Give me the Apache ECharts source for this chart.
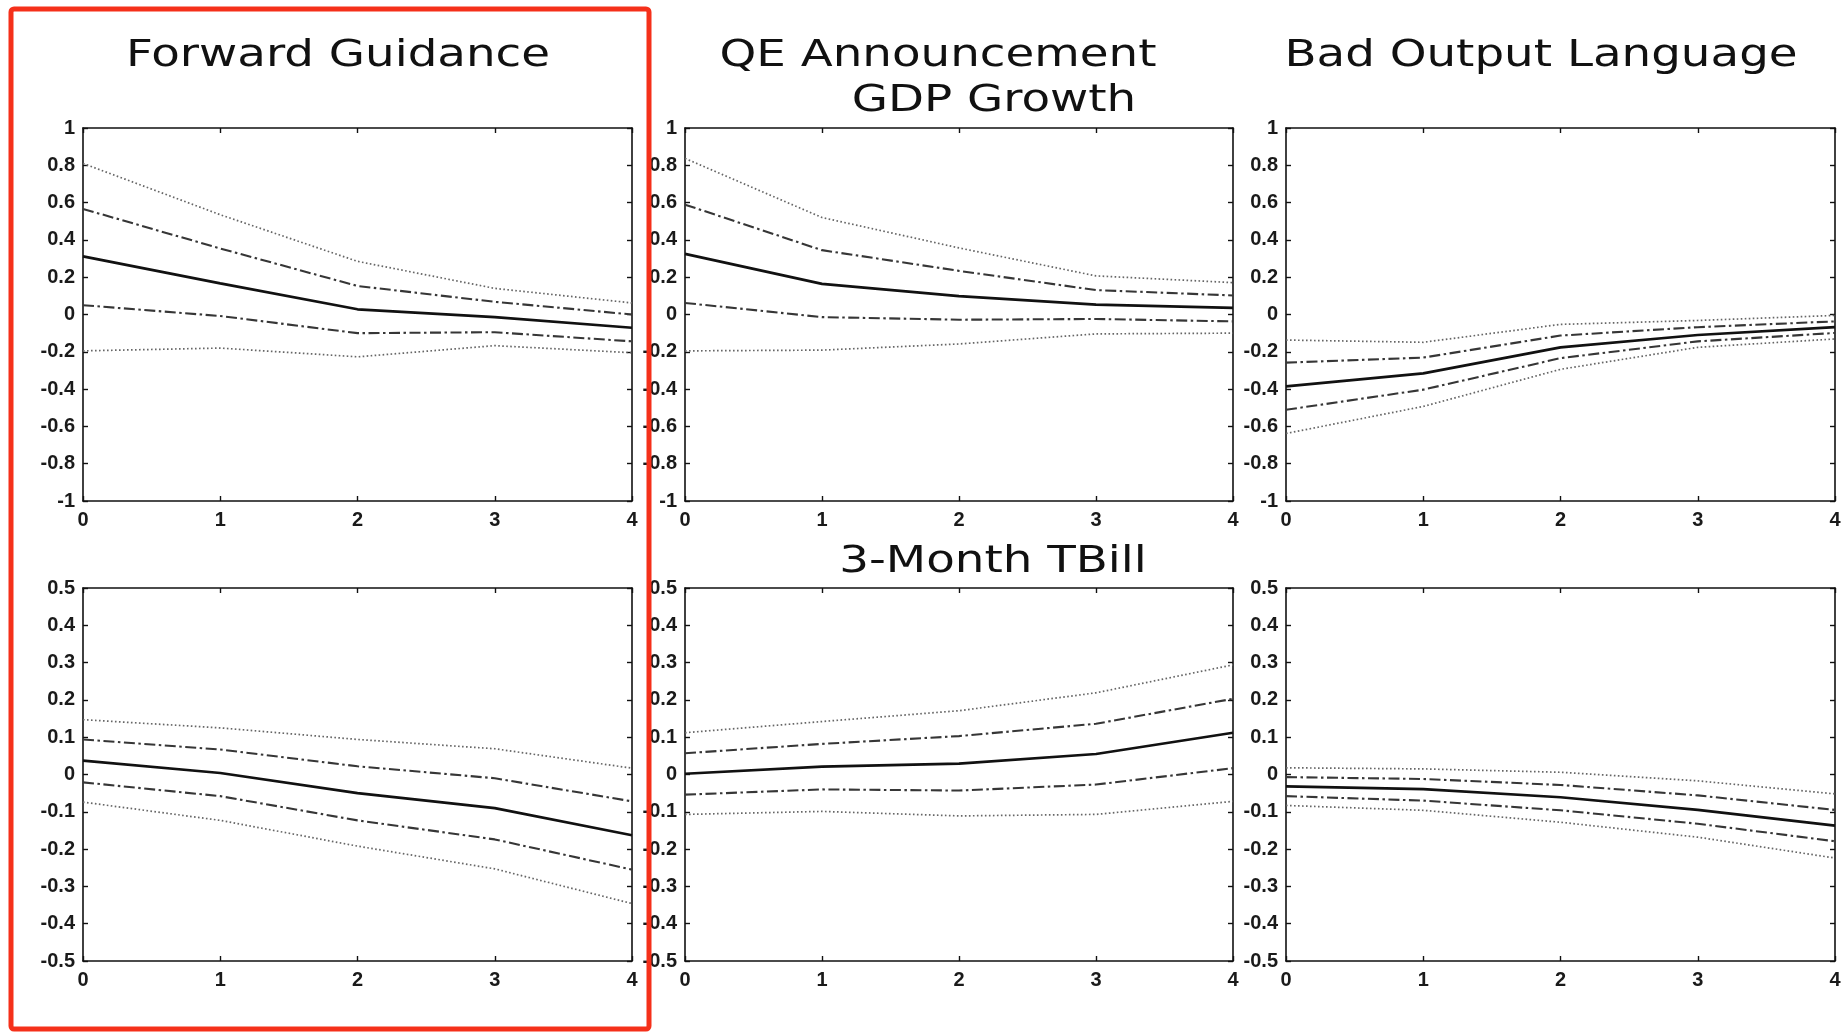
<!DOCTYPE html>
<html>
<head>
<meta charset="utf-8">
<title>Impulse responses: GDP growth and 3-month T-bill</title>
<script src="https://cdn.jsdelivr.net/npm/echarts@6/dist/echarts.min.js"></script>
<style>
  html, body { margin: 0; padding: 0; background: #ffffff; }
  #chart { width: 1848px; height: 1032px; }
</style>
</head>
<body>
<div id="chart"></div>
<script>
// Horizon (quarters after the shock)
const horizons = [0, 1, 2, 3, 4];

// Column headings and row headings
const columnTitles = ['Forward Guidance', 'QE Announcement', 'Bad Output Language'];
const rowTitles = ['GDP Growth', '3-Month TBill'];

// Y tick ranges for each row
const gdpTicks = { min: -1, max: 1, step: 0.2 };
const tbillTicks = { min: -0.5, max: 0.5, step: 0.1 };

// GDP growth responses: point estimate, inner band, outer band
const fgGdpMean     = [0.312, 0.167, 0.028, -0.014, -0.071];
const fgGdpInnerUp  = [0.566, 0.354, 0.153, 0.068, 0.000];
const fgGdpInnerLo  = [0.050, -0.008, -0.100, -0.095, -0.144];
const fgGdpOuterUp  = [0.810, 0.535, 0.285, 0.140, 0.062];
const fgGdpOuterLo  = [-0.195, -0.180, -0.227, -0.167, -0.205];

const qeGdpMean     = [0.325, 0.164, 0.099, 0.053, 0.035];
const qeGdpInnerUp  = [0.589, 0.345, 0.234, 0.131, 0.102];
const qeGdpInnerLo  = [0.062, -0.014, -0.028, -0.024, -0.037];
const qeGdpOuterUp  = [0.837, 0.520, 0.357, 0.207, 0.171];
const qeGdpOuterLo  = [-0.195, -0.191, -0.158, -0.104, -0.100];

const boGdpMean     = [-0.385, -0.316, -0.176, -0.110, -0.068];
const boGdpInnerUp  = [-0.258, -0.231, -0.113, -0.068, -0.037];
const boGdpInnerLo  = [-0.511, -0.403, -0.234, -0.144, -0.099];
const boGdpOuterUp  = [-0.137, -0.149, -0.053, -0.032, -0.005];
const boGdpOuterLo  = [-0.638, -0.493, -0.294, -0.176, -0.131];

// 3-month T-bill responses
const fgTbMean      = [0.037, 0.004, -0.050, -0.090, -0.163];
const fgTbInnerUp   = [0.094, 0.067, 0.022, -0.010, -0.072];
const fgTbInnerLo   = [-0.021, -0.058, -0.123, -0.174, -0.255];
const fgTbOuterUp   = [0.147, 0.125, 0.094, 0.069, 0.017];
const fgTbOuterLo   = [-0.074, -0.123, -0.192, -0.253, -0.346];

const qeTbMean      = [0.002, 0.021, 0.029, 0.055, 0.112];
const qeTbInnerUp   = [0.057, 0.082, 0.103, 0.136, 0.203];
const qeTbInnerLo   = [-0.054, -0.040, -0.043, -0.027, 0.017];
const qeTbOuterUp   = [0.112, 0.142, 0.171, 0.219, 0.294];
const qeTbOuterLo   = [-0.107, -0.099, -0.111, -0.107, -0.072];

const boTbMean      = [-0.032, -0.039, -0.061, -0.095, -0.137];
const boTbInnerUp   = [-0.007, -0.012, -0.028, -0.056, -0.095];
const boTbInnerLo   = [-0.058, -0.070, -0.096, -0.132, -0.179];
const boTbOuterUp   = [0.018, 0.015, 0.006, -0.017, -0.052];
const boTbOuterLo   = [-0.083, -0.096, -0.128, -0.168, -0.224];

// Layout of the 2x3 panel grid (pixels)
const colLeft = [83, 685, 1286];
const colWidth = [549, 548, 549];
const rowTop = [128, 588];
const rowHeight = 373;

const panelData = [
  { col: 0, row: 0, ticks: gdpTicks, bands: [fgGdpOuterUp, fgGdpOuterLo, fgGdpInnerUp, fgGdpInnerLo, fgGdpMean] },
  { col: 1, row: 0, ticks: gdpTicks, bands: [qeGdpOuterUp, qeGdpOuterLo, qeGdpInnerUp, qeGdpInnerLo, qeGdpMean] },
  { col: 2, row: 0, ticks: gdpTicks, bands: [boGdpOuterUp, boGdpOuterLo, boGdpInnerUp, boGdpInnerLo, boGdpMean] },
  { col: 0, row: 1, ticks: tbillTicks, bands: [fgTbOuterUp, fgTbOuterLo, fgTbInnerUp, fgTbInnerLo, fgTbMean] },
  { col: 1, row: 1, ticks: tbillTicks, bands: [qeTbOuterUp, qeTbOuterLo, qeTbInnerUp, qeTbInnerLo, qeTbMean] },
  { col: 2, row: 1, ticks: tbillTicks, bands: [boTbOuterUp, boTbOuterLo, boTbInnerUp, boTbInnerLo, boTbMean] }
];

// Line styles: dotted outer band, dash-dot inner band, solid estimate
const bandStyles = [
  { color: '#666666', width: 1.7, type: [1.6, 2.4] },
  { color: '#666666', width: 1.7, type: [1.6, 2.4] },
  { color: '#363636', width: 2.1, type: [11, 3.5, 2.5, 3.5] },
  { color: '#363636', width: 2.1, type: [11, 3.5, 2.5, 3.5] },
  { color: '#111111', width: 2.7, type: 'solid' }
];

const tickFont = { fontFamily: 'Liberation Sans', fontWeight: 'bold', fontSize: 20, color: '#1a1a1a' };
const axisLine = { show: true, onZero: false, lineStyle: { color: '#111', width: 1.6 } };
const inTick = { show: true, inside: true, length: 5, lineStyle: { color: '#111', width: 1.4 } };

const grids = [], xAxes = [], yAxes = [], series = [];

panelData.forEach((p, i) => {
  grids.push({
    left: colLeft[p.col], top: rowTop[p.row],
    width: colWidth[p.col], height: rowHeight,
    containLabel: false
  });
  const fmtY = v => String(+v.toFixed(1));
  // bottom axis with labels, top mirror with ticks only
  xAxes.push({
    type: 'value', gridIndex: i, min: 0, max: 4, interval: 1, position: 'bottom',
    axisLine, axisTick: inTick, splitLine: { show: false },
    axisLabel: Object.assign({ margin: 9, formatter: v => String(v) }, tickFont)
  });
  xAxes.push({
    type: 'value', gridIndex: i, min: 0, max: 4, interval: 1, position: 'top',
    axisLine, axisTick: inTick, splitLine: { show: false }, axisLabel: { show: false }
  });
  yAxes.push({
    type: 'value', gridIndex: i, min: p.ticks.min, max: p.ticks.max, interval: p.ticks.step,
    position: 'left', axisLine, axisTick: inTick, splitLine: { show: false },
    axisLabel: Object.assign({ margin: 8, formatter: fmtY }, tickFont)
  });
  yAxes.push({
    type: 'value', gridIndex: i, min: p.ticks.min, max: p.ticks.max, interval: p.ticks.step,
    position: 'right', axisLine, axisTick: inTick, splitLine: { show: false }, axisLabel: { show: false }
  });
  p.bands.forEach((vals, k) => {
    const st = bandStyles[k];
    series.push({
      type: 'line', xAxisIndex: 2 * i, yAxisIndex: 2 * i,
      data: horizons.map((h, j) => [h, vals[j]]),
      symbol: 'none', silent: true, animation: false,
      lineStyle: { color: st.color, width: st.width, type: st.type },
      z: 2 + k
    });
  });
});

// Headings are set in a widened sans face
const titleFont = 'DejaVu Sans';
const titleSize = 38;
const titleText = (text, x, y) => ({
  type: 'text', x, y, scaleX: 1.23, scaleY: 1,
  style: { text, fill: '#111', font: `${titleSize}px "${titleFont}"`, align: 'center', verticalAlign: 'middle' }
});

const chart = echarts.init(document.getElementById('chart'), null, { renderer: 'canvas' });
chart.setOption({
  backgroundColor: '#ffffff',
  animation: false,
  grid: grids,
  xAxis: xAxes,
  yAxis: yAxes,
  series,
  graphic: [
    titleText(columnTitles[0], 338, 56),
    titleText(columnTitles[1], 938, 56),
    titleText(columnTitles[2], 1541, 56),
    titleText(rowTitles[0], 994, 101),
    titleText(rowTitles[1], 993, 562),
    {
      type: 'rect', z: 100, silent: true,
      shape: { x: 11, y: 9, width: 638, height: 1020, r: 3 },
      style: { fill: 'none', stroke: '#f5301a', lineWidth: 5 }
    }
  ]
});
</script>
</body>
</html>
